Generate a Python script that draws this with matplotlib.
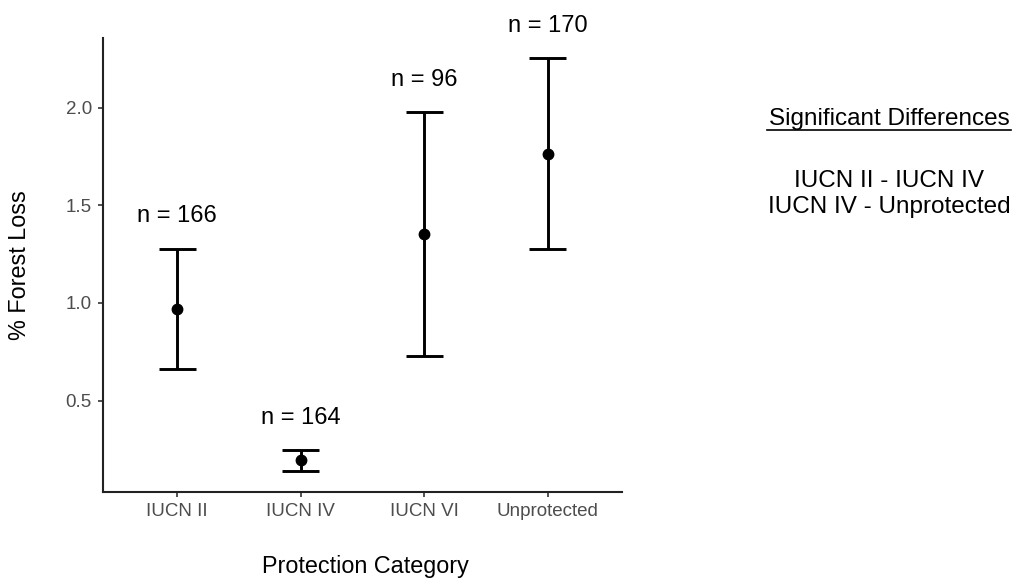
import matplotlib.pyplot as plt

# summary values
categories = ['IUCN II', 'IUCN IV', 'IUCN VI', 'Unprotected']
mean_loss = [0.968, 0.194, 1.355, 1.764]
lower_ci = [0.661, 0.139, 0.728, 1.278]
upper_ci = [1.278, 0.247, 1.978, 2.253]
n_labels = ['n = 166', 'n = 164', 'n = 96', 'n = 170']
sig_pairs = ['IUCN II - IUCN IV', 'IUCN IV - Unprotected']

plt.rcParams['font.family'] = ['Liberation Sans', 'DejaVu Sans']

fig = plt.figure(figsize=(10.15, 5.8), dpi=100)
ax = fig.add_axes([0.1015, 0.1522, 0.5113, 0.7828])

x = list(range(1, len(categories) + 1))
lw = 2.1
cap = 0.15

ax.vlines(x, lower_ci, upper_ci, color='black', lw=lw)
ax.hlines(upper_ci, [i - cap for i in x], [i + cap for i in x], color='black', lw=lw)
ax.hlines(lower_ci, [i - cap for i in x], [i + cap for i in x], color='black', lw=lw)
ax.plot(x, mean_loss, 'o', color='black', ms=7.5)

for xi, up, lab in zip(x, upper_ci, n_labels):
    ax.text(xi, up + 0.165, lab, ha='center', va='center', fontsize=17, clip_on=False)

# ggplot-like limits: 5% padding on the data range, 0.6 on discrete axis
lo, hi = min(lower_ci), max(upper_ci)
pad = 0.05 * (hi - lo)
ax.set_ylim(lo - pad, hi + pad)
ax.set_xlim(0.4, len(categories) + 0.6)

ax.set_xticks(x)
ax.set_xticklabels(categories)
ax.set_yticks([0.5, 1.0, 1.5, 2.0])
ax.set_yticklabels(['0.5', '1.0', '1.5', '2.0'])
ax.tick_params(axis='both', colors='#333333', labelcolor='#4D4D4D',
               labelsize=13.5, length=3.5, width=1.2, pad=4.5)

for side in ['top', 'right']:
    ax.spines[side].set_visible(False)
for side in ['left', 'bottom']:
    ax.spines[side].set_linewidth(1.5)
    ax.spines[side].set_color('#222222')

fig.text(365 / 1015, 1 - 567 / 580, 'Protection Category', ha='center', va='center', fontsize=16.8)
fig.text(20 / 1015, 1 - 265 / 580, '% Forest Loss', ha='center', va='center', rotation=90, fontsize=16.8)

# side annotation
fig.text(889 / 1015, 1 - 119 / 580, 'Significant Differences', ha='center', va='center', fontsize=17.5)
fig.add_artist(plt.Line2D([767 / 1015, 1011 / 1015], [1 - 130 / 580, 1 - 130 / 580], color='black', lw=1.2))
fig.text(889 / 1015, 1 - 194 / 580, '\n'.join(sig_pairs), ha='center', va='center', fontsize=17.5, linespacing=1.27)

fig.savefig('out.png', dpi=100)
